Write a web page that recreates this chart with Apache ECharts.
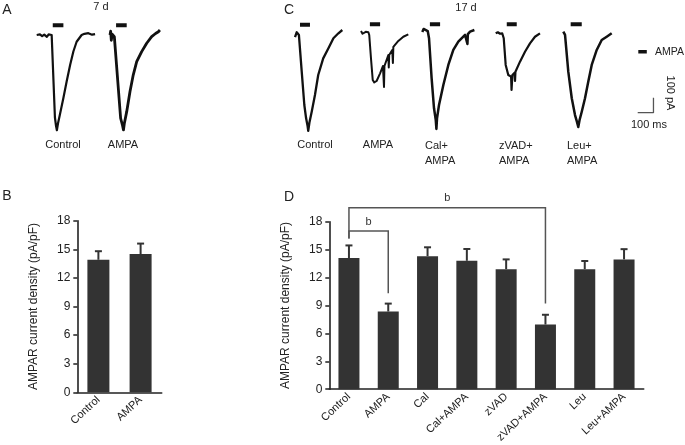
<!DOCTYPE html>
<html><head><meta charset="utf-8">
<script src="https://cdn.jsdelivr.net/npm/echarts@6/dist/echarts.min.js"></script>
<style>html,body{margin:0;padding:0;background:#fff}#c{width:685px;height:445px}</style>
</head><body><div id="c"></div>
<script>
const FONT = '"Liberation Sans", Arial, sans-serif';

// ---- Panel B (7 d) ----
const catsB = ['Control', 'AMPA'];
const meanB = [13.9, 14.5];
const semB = [0.9, 1.1];

// ---- Panel D (17 d) ----
const catsD = ['Control', 'AMPA', 'Cal', 'Cal+AMPA', 'zVAD', 'zVAD+AMPA', 'Leu', 'Leu+AMPA'];
const meanD = [14.1, 8.35, 14.3, 13.8, 12.9, 6.95, 12.9, 13.95];
const semD = [1.35, 0.85, 0.95, 1.27, 1.05, 1.05, 0.88, 1.1];

// y ticks
const yMin = 0, yMax = 18, yStep = 3;
const yTitle = 'AMPAR current density (pA/pF)';

// significance brackets (panel D)
const bracketFrom = [0, 0];
const bracketTo = [5, 1];
const bracketTop = [19.5, 17.0];
const bracketLeftEnd = [16.2, 16.2];
const bracketRightEnd = [9.2, 10.3];
const bracketText = ['b', 'b'];

// ---- current traces: [time ms, current pA] ----
const traceAControl = [[0,0],[8,-10],[15,4],[25,-8],[35,3],[47,-12],[55,4],[69,0],[74,-7],[84,-550],[89,-605],[93,-635],[98,-590],[107,-530],[123,-420],[138,-310],[154,-200],[169,-110],[184,-45],[207,0],[220,8],[238,12],[255,2],[269,6]];
const traceAAmpa = [[0,0],[3,25],[6,-35],[10,5],[15,0],[20,-11],[49,-555],[58,-605],[62,-633],[66,-590],[77,-511],[92,-378],[107,-267],[123,-178],[146,-111],[169,-55],[192,-11],[210,10],[223,22],[230,33]];
const traceCControl = [[0,-27],[8,5],[14,0],[18,-13],[31,-258],[43,-480],[51,-567],[58,-620],[61,-653],[67,-593],[77,-525],[92,-413],[107,-280],[130,-169],[154,-102],[177,-35],[200,-2],[218,20]];
const traceCAmpa = [[0,13],[7,-5],[14,0],[22,8],[34,5],[38,-13],[46,-169],[54,-313],[61,-329],[72,-320],[88,-269],[101,-220],[106,-360],[108,-220],[126,-147],[128,-230],[130,-147],[144,-113],[147,-200],[149,-93],[172,-53],[195,-25],[218,-9]];
const traceCCal = [[0,7],[6,27],[12,27],[25,13],[31,-35],[43,-302],[54,-502],[62,-580],[65,-640],[68,-567],[77,-480],[97,-347],[120,-213],[143,-113],[166,-58],[197,-13],[208,-73],[210,-7],[220,9],[240,20]];
const traceCZvad = [[0,-2],[10,5],[20,-5],[30,-2],[37,-35],[46,-213],[58,-280],[71,-291],[73,-380],[77,-280],[87,-265],[89,-320],[91,-258],[112,-191],[135,-125],[158,-69],[181,-25],[204,-2]];
const traceCLeu = [[0,9],[3,20],[8,-13],[23,-258],[39,-435],[54,-547],[63,-593],[69,-627],[75,-580],[85,-525],[100,-435],[115,-325],[131,-213],[154,-113],[177,-47],[200,-25],[223,-2]];
// AMPA application bars: [start ms, end ms, level pA]
const stimAControl = [74, 123, 65];
const stimAAmpa = [28, 77, 65];
const stimCControl = [23, 69, 55];
const stimCAmpa = [41, 88, 58];
const stimCCal = [35, 82, 58];
const stimCZvad = [51, 97, 58];
const stimCLeu = [34, 85, 58];
// scale bar: 100 ms, 100 pA
const scaleBar = [[0,0],[100,0],[100,100]];
const scaleLabels = ['100 ms', '100 pA'];
const traceLabelsA = ['Control', 'AMPA'];
const traceLabelsC = ['Control', 'AMPA', 'Cal+\nAMPA', 'zVAD+\nAMPA', 'Leu+\nAMPA'];

// ---- layout ----
const traces = [traceAControl, traceAAmpa, traceCControl, traceCAmpa, traceCCal, traceCZvad, traceCLeu];
const stims = [stimAControl, stimAAmpa, stimCControl, stimCAmpa, stimCCal, stimCZvad, stimCLeu];
const traceLeft = [36.7, 110, 295, 361, 422.3, 495.7, 563.3];
const traceBase = [35, 35, 33, 33, 33, 33, 33];
const traceWidth = [2.2, 2.8, 2.3, 2, 2.5, 2.2, 2.5];
const PX_MS = 0.217, PX_PA = 0.15;
const T_MAX = 300, I_MIN = -700, I_MAX = 150;

const axisCol = '#222';
const grids = [
  {left: 77.3, top: 220.7, width: 84.4, height: 171.6},
  {left: 329.3, top: 221.7, width: 314.4, height: 170.6}
];
const xAxes = [];
const yAxes = [];
const series = [];

function barAxes(gi, cats) {
  xAxes.push({
    type: 'category', gridIndex: gi, data: cats,
    axisLine: {lineStyle: {color: axisCol, width: 1.6}},
    axisTick: {alignWithLabel: true, length: 4, lineStyle: {color: axisCol, width: 1.5}},
    axisLabel: {rotate: 43, fontSize: 11, color: axisCol, margin: 6, fontFamily: FONT, interval: 0}
  });
  yAxes.push({
    type: 'value', gridIndex: gi, min: yMin, max: yMax, interval: yStep,
    name: yTitle, nameLocation: 'middle', nameGap: 38, nameRotate: 90,
    nameTextStyle: {fontSize: 12, color: axisCol, fontFamily: FONT},
    axisLine: {show: true, lineStyle: {color: axisCol, width: 1.6}},
    axisTick: {show: true, length: 4, lineStyle: {color: axisCol, width: 1.5}},
    splitLine: {show: false},
    axisLabel: {fontSize: 12, color: axisCol, margin: 7, fontFamily: FONT}
  });
}
barAxes(0, catsB);
barAxes(1, catsD);

function errRender(params, api) {
  const x = api.value(0), m = api.value(1), e = api.value(2);
  const p0 = api.coord([x, m]);
  const p1 = api.coord([x, m + e]);
  return {type: 'group', children: [
    {type: 'line', shape: {x1: p0[0], y1: p0[1], x2: p1[0], y2: p1[1]}, style: {stroke: '#333', lineWidth: 2}},
    {type: 'line', shape: {x1: p1[0] - 3.5, y1: p1[1], x2: p1[0] + 3.5, y2: p1[1]}, style: {stroke: '#333', lineWidth: 2}}
  ]};
}

[[catsB, meanB, semB, 22], [catsD, meanD, semD, 21]].forEach(([cats, mean, sem, bw], gi) => {
  series.push({type: 'bar', xAxisIndex: gi, yAxisIndex: gi, data: mean, barWidth: bw,
    itemStyle: {color: '#333'}, silent: true, animation: false});
  series.push({type: 'custom', xAxisIndex: gi, yAxisIndex: gi, renderItem: errRender,
    data: mean.map((m, i) => [i, m, sem[i]]), animation: false, silent: true, z: 3});
});

series.push({
  type: 'custom', xAxisIndex: 1, yAxisIndex: 1, clip: false, animation: false, silent: true,
  data: bracketFrom.map((f, i) => [f, bracketTo[i], bracketTop[i], bracketLeftEnd[i], bracketRightEnd[i]]),
  renderItem: function (params, api) {
    const a = api.value(0), b = api.value(1), top = api.value(2), lb = api.value(3), rb = api.value(4);
    const pl0 = api.coord([a, lb]), pl1 = api.coord([a, top]);
    const pr1 = api.coord([b, top]), pr0 = api.coord([b, rb]);
    return {type: 'group', children: [
      {type: 'polyline', shape: {points: [pl0, pl1, pr1, pr0]}, style: {stroke: '#555', lineWidth: 1.5, fill: null}},
      {type: 'text', x: (pl1[0] + pr1[0]) / 2, y: pl1[1] - 4,
        style: {text: bracketText[params.dataIndex], font: '11px ' + FONT, fill: '#333',
          textAlign: 'center', textVerticalAlign: 'bottom', align: 'center', verticalAlign: 'bottom'}}
    ]};
  }
});

function traceGrid(left, base) {
  const gi = grids.length;
  grids.push({left: left, top: base - I_MAX * PX_PA, width: T_MAX * PX_MS, height: (I_MAX - I_MIN) * PX_PA});
  xAxes.push({type: 'value', gridIndex: gi, min: 0, max: T_MAX, show: false});
  yAxes.push({type: 'value', gridIndex: gi, min: I_MIN, max: I_MAX, show: false});
  return gi;
}

traces.forEach((tr, i) => {
  const gi = traceGrid(traceLeft[i], traceBase[i]);
  series.push({type: 'line', xAxisIndex: gi, yAxisIndex: gi, data: tr, symbol: 'none', clip: false,
    lineStyle: {color: '#111', width: traceWidth[i], join: 'round'}, animation: false, silent: true});
  const s = stims[i];
  series.push({type: 'line', xAxisIndex: gi, yAxisIndex: gi, data: [[s[0], s[2]], [s[1], s[2]]], symbol: 'none', clip: false,
    lineStyle: {color: '#111', width: 4, cap: 'butt'}, animation: false, silent: true});
});

const sg = traceGrid(637.7, 112.7);
series.push({type: 'line', xAxisIndex: sg, yAxisIndex: sg, data: scaleBar, symbol: 'none', clip: false,
  lineStyle: {color: '#555', width: 1.3}, animation: false, silent: true});

function txt(text, x, y, size, align, vAlign, extra) {
  return Object.assign({type: 'text', x: x, y: y, silent: true,
    style: {text: text, font: size + 'px ' + FONT, fill: '#222', textAlign: align, align: align,
      textVerticalAlign: vAlign, verticalAlign: vAlign, lineHeight: 15}}, extra || {});
}

const graphic = [
  txt('A', 7, 10, 14, 'center', 'middle'),
  txt('B', 7, 196, 14, 'center', 'middle'),
  txt('C', 289, 10, 14, 'center', 'middle'),
  txt('D', 289, 197, 14, 'center', 'middle'),
  txt('7 d', 101, 7, 11, 'center', 'middle'),
  txt('17 d', 466, 8, 11, 'center', 'middle'),
  txt(traceLabelsA[0], 63, 145, 11, 'center', 'middle'),
  txt(traceLabelsA[1], 123, 145, 11, 'center', 'middle'),
  txt(traceLabelsC[0], 315, 145, 11, 'center', 'middle'),
  txt(traceLabelsC[1], 378, 145, 11, 'center', 'middle'),
  txt(traceLabelsC[2], 425, 138, 11, 'left', 'top'),
  txt(traceLabelsC[3], 499, 138, 11, 'left', 'top'),
  txt(traceLabelsC[4], 567, 138, 11, 'left', 'top'),
  {type: 'rect', shape: {x: 638.3, y: 50, width: 8.5, height: 3.5}, style: {fill: '#111'}, silent: true},
  txt('AMPA', 655, 52, 10.5, 'left', 'middle'),
  txt(scaleLabels[0], 649, 125, 11, 'center', 'middle'),
  txt(scaleLabels[1], 670, 93, 11, 'center', 'middle', {rotation: -Math.PI / 2})
];

const chart = echarts.init(document.getElementById('c'), null, {renderer: 'canvas'});
chart.setOption({
  animation: false,
  backgroundColor: '#fff',
  textStyle: {fontFamily: FONT},
  grid: grids, xAxis: xAxes, yAxis: yAxes, series: series, graphic: graphic
});
</script></body></html>
